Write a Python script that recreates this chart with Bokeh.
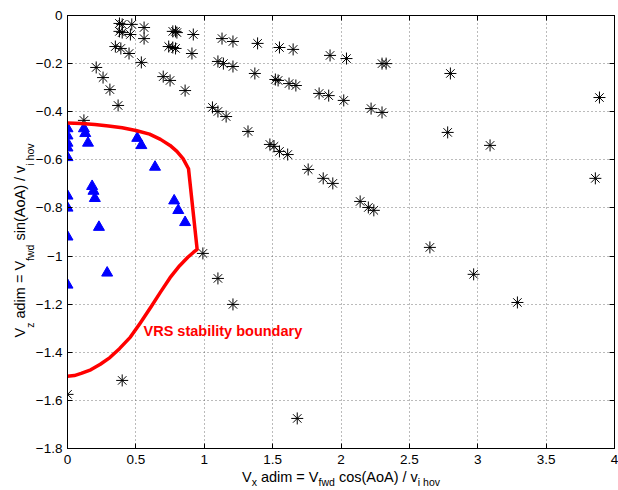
from bokeh.plotting import figure
from bokeh.models import Label, LinearAxis, FixedTicker, Range1d
from bokeh.embed import file_html
from bokeh.resources import INLINE

# ---------------- data ----------------
star_x = [0.38, 0.40, 0.47, 0.56, 0.38, 0.40, 0.46, 0.56, 0.35, 0.39, 0.45, 0.54, 0.21, 0.26, 0.31, 0.37,
          0.77, 0.79, 0.80, 0.92, 0.74, 0.77, 0.79, 0.91, 0.70, 0.75, 0.86, 0.12,
          1.13, 1.21, 1.39, 1.55, 1.65, 1.92, 2.04, 2.30, 2.33, 2.80,
          1.10, 1.14, 1.21, 1.37, 1.52, 1.54, 1.62, 1.67, 1.84, 1.91, 2.02, 2.22, 2.30, 3.89,
          1.06, 1.10, 1.16, 1.32, 2.78,
          1.48, 1.51, 1.55, 1.61, 3.09,
          1.76, 1.87, 1.94, 3.86,
          2.14, 2.20, 2.24, 2.65, 2.97, 3.29,
          0.99, 1.10, 1.21, 0.40, 0.0, 1.68]
star_y = [-0.033, -0.037, -0.037, -0.05, -0.066, -0.071, -0.079, -0.096, -0.129, -0.137, -0.158, -0.195, -0.216, -0.258, -0.308, -0.374,
          -0.066, -0.066, -0.071, -0.079, -0.129, -0.133, -0.137, -0.158, -0.254, -0.270, -0.312, -0.436,
          -0.096, -0.108, -0.116, -0.133, -0.141, -0.166, -0.179, -0.2, -0.2, -0.241,
          -0.191, -0.2, -0.212, -0.241, -0.266, -0.270, -0.283, -0.291, -0.324, -0.333, -0.353, -0.387, -0.403, -0.341,
          -0.382, -0.399, -0.420, -0.482, -0.486,
          -0.536, -0.544, -0.565, -0.578, -0.540,
          -0.640, -0.677, -0.698, -0.677,
          -0.773, -0.798, -0.810, -0.964, -1.076, -1.193,
          -0.989, -1.093, -1.201, -1.517, -1.575, -1.675]

tri_x = [0, 0, 0, 0, 0, 0, 0, 0, 0,
         0.12, 0.13, 0.15, 0.51, 0.54, 0.64, 0.18, 0.19, 0.20, 0.78, 0.81, 0.86, 0.23, 0.29]
tri_y = [-0.47, -0.50, -0.53, -0.55, -0.59, -0.75, -0.80, -0.92, -1.12,
         -0.47, -0.49, -0.53, -0.51, -0.54, -0.63, -0.71, -0.73, -0.76, -0.77, -0.81, -0.86, -0.88, -1.07]

bnd_x = [0, 0.1, 0.2, 0.3, 0.4, 0.5, 0.6, 0.68, 0.75, 0.8, 0.845, 0.885, 0.948,
         0.92, 0.88, 0.82, 0.75, 0.68, 0.61, 0.53, 0.46, 0.38, 0.31, 0.24, 0.17, 0.1, 0.05, 0]
bnd_y = [-0.447, -0.449, -0.453, -0.459, -0.467, -0.478, -0.493, -0.515, -0.54, -0.565, -0.595, -0.637, -0.972,
         -0.985, -1.005, -1.04, -1.09, -1.15, -1.212, -1.28, -1.337, -1.385, -1.422, -1.45, -1.473, -1.488, -1.497, -1.5]

x_ticks = [0, 0.5, 1, 1.5, 2, 2.5, 3, 3.5, 4]
x_tick_labels = ["0", "0.5", "1", "1.5", "2", "2.5", "3", "3.5", "4"]
y_ticks = [0, -0.2, -0.4, -0.6, -0.8, -1, -1.2, -1.4, -1.6, -1.8]
y_tick_labels = ["0", "\u22120.2", "\u22120.4", "\u22120.6", "\u22120.8", "\u22121",
                 "\u22121.2", "\u22121.4", "\u22121.6", "\u22121.8"]

boundary_text = "VRS stability boundary"
xlabel_parts = [("V", 0), ("x", 1), (" adim = V", 0), ("fwd", 1), (" cos(AoA) / v", 0), ("i hov", 1)]
ylabel_parts = [("V", 0), ("z", 1), (" adim = V", 0), ("fwd", 1), (" sin(AoA) / v", 0), ("i hov", 1)]

# ---------------- layout ----------------
W, H = 618, 490
L, R, T, B = 67, 4, 15, 42
X0, X1, Y0, Y1 = 0, 4, -1.8, 0
FW, FH = W - L - R, H - T - B
FONT = "Liberation Sans"
MAIN, SUB, TICK = 14.5, 10.5, 13.5

def dx(px):
    return X0 + (px - L) / FW * (X1 - X0)

def dy(py):
    return Y1 - (py - T) / FH * (Y1 - Y0)

p = figure(width=W, height=H, x_range=Range1d(X0, X1), y_range=Range1d(Y0, Y1),
           output_backend="svg", toolbar_location=None,
           min_border_left=L, min_border_right=R, min_border_top=T, min_border_bottom=B)
p.background_fill_color = "white"
p.border_fill_color = "white"
p.outline_line_color = "black"
p.outline_line_width = 1

p.add_layout(LinearAxis(), "right")
p.add_layout(LinearAxis(), "above")

for ax in p.xaxis:
    ax.ticker = FixedTicker(ticks=x_ticks)
    ax.major_label_overrides = {t: s for t, s in zip(x_ticks, x_tick_labels)}
for ax in p.yaxis:
    ax.ticker = FixedTicker(ticks=y_ticks)
    ax.major_label_overrides = {t: s for t, s in zip(y_ticks, y_tick_labels)}

for ax in list(p.xaxis) + list(p.yaxis):
    ax.axis_line_color = "black"
    ax.axis_line_width = 1
    ax.major_tick_in = 5
    ax.major_tick_out = 0
    ax.major_tick_line_color = "black"
    ax.minor_tick_line_color = None
    ax.major_label_text_font = FONT
    ax.major_label_text_font_size = f"{TICK}px"
    ax.major_label_text_color = "black"

p.below[0].major_label_standoff = 6
p.left[0].major_label_standoff = 5
p.right[0].major_label_overrides = {t: "" for t in y_ticks}
p.above[0].major_label_overrides = {t: "" for t in x_ticks}
for ax in (p.right[0], p.above[0]):
    ax.major_label_text_font_size = "1px"
    ax.major_label_standoff = 0

for g in (p.xgrid, p.ygrid):
    g.grid_line_color = "#555555"
    g.grid_line_alpha = 0.8
    g.grid_line_dash = "1 3"
    g.grid_line_width = 1

# ---------------- marks ----------------
p.scatter(star_x, star_y, marker="asterisk", size=12, line_color="black", line_width=1)
p.scatter(tri_x, tri_y, marker="triangle", size=11, fill_color="#0000ff", line_color="#0000ff")
p.line(bnd_x, bnd_y, line_color="#ff0000", line_width=3.5, line_join="round")

p.add_layout(Label(x=dx(143), y=dy(330), text=boundary_text, text_color="#ff0000",
                   text_font=FONT, text_font_style="bold", text_font_size="14.5px",
                   text_align="left", text_baseline="middle"))

# ---------------- axis titles with subscripts (built from label-only axes) ----------------
AW = {' ': 278, '=': 584, 'V': 667, 'a': 556, 'd': 556, 'i': 222, 'm': 833, 'x': 500, 'z': 500,
      'f': 278, 'w': 722, 'c': 500, 'o': 556, 's': 500, '(': 333, ')': 333, 'A': 667, '/': 278,
      'v': 500, 'h': 556, 'n': 556}

def tw(s, size):
    return sum(AW.get(c, 556) for c in s) * size / 1000.0

def layout_parts(parts):
    out = []
    cur = 0.0
    for s, sub in parts:
        size = SUB if sub else MAIN
        core = s.strip(' ')
        lead = len(s) - len(s.lstrip(' '))
        trail = len(s) - len(s.rstrip(' '))
        cur += lead * tw(' ', size)
        w = tw(core, size)
        out.append((core, sub, cur + w / 2.0))
        cur += w + trail * tw(' ', size)
    return out, cur

def label_axis(side, ticks, texts, size, standoff, orient="horizontal"):
    ax = LinearAxis(ticker=FixedTicker(ticks=ticks),
                    major_label_overrides={t: s for t, s in zip(ticks, texts)})
    ax.axis_line_color = None
    ax.major_tick_line_color = None
    ax.minor_tick_line_color = None
    ax.major_tick_in = 0
    ax.major_tick_out = 0
    ax.major_label_text_font = FONT
    ax.major_label_text_font_size = f"{size}px"
    ax.major_label_text_color = "black"
    ax.major_label_standoff = standoff
    ax.major_label_orientation = orient
    p.add_layout(ax, side)
    return ax

# x title: subscripts band first, then main-text band pulled back up (zero-size band)
xl, xtot = layout_parts(xlabel_parts)
xstart = L + FW / 2 - xtot / 2
xs_sub = [(round(dx(xstart + c), 6), t) for t, s, c in xl if s]
xs_main = [(round(dx(xstart + c), 6), t) for t, s, c in xl if not s]
label_axis("below", [a for a, _ in xs_sub], [b for _, b in xs_sub], SUB, 9)
label_axis("below", [a for a, _ in xs_main], [b for _, b in xs_main], MAIN, -22)

# y title (vertical): subscripts band first, then main band
yl, ytot = layout_parts(ylabel_parts)
ycenter = 240
ystart = ycenter + ytot / 2
ys_sub = [(round(dy(ystart - c), 6), t) for t, s, c in yl if s]
ys_main = [(round(dy(ystart - c), 6), t) for t, s, c in yl if not s]
label_axis("left", [a for a, _ in ys_sub], [b for _, b in ys_sub], SUB, -4, "vertical")
label_axis("left", [a for a, _ in ys_main], [b for _, b in ys_main], MAIN, -7, "vertical")

open("out.html", "w").write(file_html(p, INLINE))
